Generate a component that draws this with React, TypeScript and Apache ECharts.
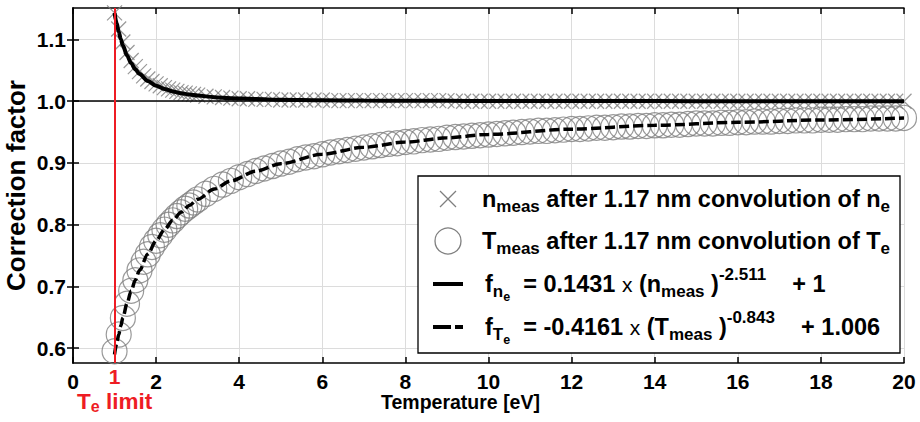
import React, { useEffect, useRef } from "react";
import * as echarts from "echarts";

// ---- data ----
const xTicks = [0, 2, 4, 6, 8, 10, 12, 14, 16, 18, 20];
const yTicks = [0.6, 0.7, 0.8, 0.9, 1.0, 1.1];
const teLimit = 1;
const unityLevel = 1.0;

const measX = [
  1.0, 1.1, 1.2, 1.3, 1.4, 1.5, 1.6, 1.7, 1.8, 1.9, 2.0, 2.1, 2.2, 2.3, 2.4, 2.5, 2.6, 2.7, 2.8, 2.9, 3.0,
  3.2, 3.4, 3.6, 3.8, 4.0, 4.2, 4.4, 4.6, 4.8, 5.0, 5.2, 5.4, 5.6, 5.8, 6.0, 6.2, 6.4, 6.6, 6.8, 7.0,
  7.2, 7.4, 7.6, 7.8, 8.0, 8.2, 8.4, 8.6, 8.8, 9.0, 9.2, 9.4, 9.6, 9.8, 10.0,
  10.2, 10.4, 10.6, 10.8, 11.0, 11.2, 11.4, 11.6, 11.8, 12.0, 12.2, 12.4, 12.6, 12.8, 13.0,
  13.2, 13.4, 13.6, 13.8, 14.0, 14.2, 14.4, 14.6, 14.8, 15.0, 15.2, 15.4, 15.6, 15.8, 16.0,
  16.2, 16.4, 16.6, 16.8, 17.0, 17.2, 17.4, 17.6, 17.8, 18.0, 18.2, 18.4, 18.6, 18.8, 19.0,
  19.2, 19.4, 19.6, 19.8, 20.0,
];
const nMeas = [
  1.143, 1.117, 1.096, 1.079, 1.066, 1.056, 1.048, 1.041, 1.036, 1.032, 1.028, 1.025, 1.022, 1.020, 1.018, 1.016, 1.014, 1.013, 1.012, 1.011, 1.010,
  1.008, 1.007, 1.006, 1.005, 1.004, 1.004, 1.003, 1.003, 1.003, 1.002, 1.002, 1.002, 1.002, 1.002, 1.002, 1.001, 1.001, 1.001, 1.001, 1.001,
  1.001, 1.001, 1.001, 1.001, 1.001, 1.001, 1.001, 1.001, 1.001, 1.001, 1.000, 1.000, 1.000, 1.000, 1.000,
  1.000, 1.000, 1.000, 1.000, 1.000, 1.000, 1.000, 1.000, 1.000, 1.000, 1.000, 1.000, 1.000, 1.000, 1.000,
  1.000, 1.000, 1.000, 1.000, 1.000, 1.000, 1.000, 1.000, 1.000, 1.000, 1.000, 1.000, 1.000, 1.000, 1.000,
  1.000, 1.000, 1.000, 1.000, 1.000, 1.000, 1.000, 1.000, 1.000, 1.000, 1.000, 1.000, 1.000, 1.000, 1.000,
  1.000, 1.000, 1.000, 1.000, 1.000,
];
const tMeas = [
  0.595, 0.622, 0.649, 0.672, 0.693, 0.710, 0.726, 0.740, 0.752, 0.764, 0.774, 0.783, 0.792, 0.800, 0.807, 0.814, 0.820, 0.826, 0.831, 0.836, 0.841,
  0.850, 0.858, 0.865, 0.871, 0.877, 0.882, 0.887, 0.891, 0.895, 0.899, 0.902, 0.906, 0.909, 0.911, 0.914, 0.917, 0.919, 0.921, 0.923, 0.925,
  0.927, 0.929, 0.931, 0.932, 0.934, 0.935, 0.937, 0.938, 0.939, 0.941, 0.942, 0.943, 0.944, 0.945, 0.946,
  0.947, 0.948, 0.949, 0.950, 0.951, 0.952, 0.952, 0.953, 0.954, 0.955, 0.955, 0.956, 0.957, 0.957, 0.958,
  0.959, 0.959, 0.960, 0.960, 0.961, 0.961, 0.962, 0.962, 0.963, 0.964, 0.964, 0.964, 0.965, 0.965, 0.966,
  0.966, 0.967, 0.967, 0.967, 0.968, 0.968, 0.969, 0.969, 0.969, 0.970, 0.970, 0.970, 0.971, 0.971, 0.971,
  0.972, 0.972, 0.972, 0.972, 0.973,
];

const fitX = [1.0, 1.05, 1.1, 1.15, 1.2, 1.3, 1.4, 1.5, 1.6, 1.8, 2.0, 2.2, 2.4, 2.6, 2.8, 3.0, 3.4, 3.8, 4.4, 5, 6, 7, 8, 9, 10, 12, 14, 16, 18, 20];
const fitN = [1.1431, 1.1266, 1.1127, 1.1007, 1.0905, 1.0741, 1.0615, 1.0517, 1.044, 1.0327, 1.0251, 1.0198, 1.0159, 1.013, 1.0108, 1.0091, 1.0066, 1.005, 1.0035, 1.0025, 1.0016, 1.0011, 1.0008, 1.0006, 1.0004, 1.0003, 1.0002, 1.0001, 1.0001, 1.0001];
const fitT = [0.5899, 0.6067, 0.622, 0.6361, 0.6492, 0.6725, 0.6926, 0.7104, 0.726, 0.7525, 0.774, 0.7919, 0.8071, 0.82, 0.8313, 0.8412, 0.8577, 0.871, 0.8867, 0.8989, 0.9141, 0.9254, 0.9339, 0.9407, 0.9463, 0.9548, 0.961, 0.9658, 0.9696, 0.9727];

const FONT = '"Liberation Sans", Arial, Helvetica, sans-serif';
const GRAY = "#7f7f7f";
const RED = "#ee1c24";
const X_SYMBOL = "path://M0,0L10,10M10,0L0,10";

const legendRich = {
  m: { fontSize: 23.5, fontWeight: "bold", fontFamily: FONT, fill: "#000", lineHeight: 38 },
  s: { fontSize: 17, fontWeight: "bold", fontFamily: FONT, fill: "#000", lineHeight: 17, padding: [14, 0, 0, 0] },
  ss: { fontSize: 12.5, fontWeight: "bold", fontFamily: FONT, fill: "#000", lineHeight: 12, padding: [25, 0, 0, 0] },
  sup: { fontSize: 17, fontWeight: "bold", fontFamily: FONT, fill: "#000", lineHeight: 17, padding: [0, 0, 19, 0] },
  x: { fontSize: 21, fontWeight: "normal", fontFamily: FONT, fill: "#000", lineHeight: 38 },
};

export default function App() {
  const ref = useRef<HTMLDivElement>(null);

  useEffect(() => {
    if (!ref.current) return;
    const chart = echarts.init(ref.current, undefined, { renderer: "svg" });

    const axisLine = { show: true, lineStyle: { color: "#000", width: 1.5 } };
    const tick = { show: true, inside: true, length: 6, lineStyle: { color: "#000", width: 1.5 } };
    const label = { color: "#000", fontSize: 21, fontWeight: "bold", fontFamily: FONT };

    const legendX = 418, legendY = 176, legendW = 482, legendH = 177;
    const symX = 448;
    const rows = [199, 241, 284, 327];
    const textX = 482;

    chart.setOption({
      animation: false,
      grid: { left: 73, right: 16, top: 8, bottom: 59, containLabel: false, outerBoundsMode: "none" },
      xAxis: [
        {
          type: "value", min: xTicks[0], max: xTicks[xTicks.length - 1], interval: 2,
          axisLine, axisTick: tick,
          axisLabel: { ...label, margin: 8 },
          splitLine: { show: true, lineStyle: { color: "#dcdcdc", width: 1 } },
          name: "Temperature [eV]", nameLocation: "middle", nameGap: 29, nameMoveOverlap: false,
          nameTextStyle: { color: "#000", fontSize: 19.5, fontWeight: "bold", fontFamily: FONT, padding: [0, 56, 0, 0] },
        },
        {
          type: "value", position: "top", min: xTicks[0], max: xTicks[xTicks.length - 1], interval: 2,
          axisLine, axisTick: tick, axisLabel: { show: false }, splitLine: { show: false },
        },
      ],
      yAxis: [
        {
          type: "value", min: 0.576, max: 1.151,
          axisLine, axisTick: { ...tick, customValues: yTicks },
          axisLabel: { ...label, margin: 7, customValues: yTicks, formatter: (v: number) => v.toFixed(1) },
          splitLine: { show: true, lineStyle: { color: "#dcdcdc", width: 1 } },
          name: "Correction factor", nameLocation: "middle", nameGap: 44, nameRotate: 90, nameMoveOverlap: false,
          nameTextStyle: { color: "#000", fontSize: 26, fontWeight: "bold", fontFamily: FONT },
        },
        {
          type: "value", position: "right", min: 0.576, max: 1.151,
          axisLine, axisTick: { ...tick, customValues: yTicks },
          axisLabel: { show: false, customValues: yTicks }, splitLine: { show: false },
        },
      ],
      series: [
        {
          type: "scatter", name: "n_meas", z: 2, silent: true,
          data: measX.map((x, i) => [x, nMeas[i]]),
          symbol: X_SYMBOL, symbolSize: 15,
          itemStyle: { color: "none", borderColor: GRAY, borderWidth: 1.2 },
        },
        {
          type: "scatter", name: "T_meas", z: 2, silent: true,
          data: measX.map((x, i) => [x, tMeas[i]]),
          symbol: "circle", symbolSize: 25,
          itemStyle: { color: "none", borderColor: GRAY, borderWidth: 1.2 },
        },
        {
          type: "line", name: "f_ne", z: 3, silent: true,
          data: fitX.map((x, i) => [x, fitN[i]]),
          symbol: "none", showSymbol: false, smooth: 0.3, smoothMonotone: "x",
          lineStyle: { color: "#000", width: 4 },
          markLine: {
            silent: true, symbol: "none", animation: false,
            label: { show: false },
            lineStyle: { color: "#000", width: 1.5, type: "solid" },
            data: [{ yAxis: unityLevel }],
          },
        },
        {
          type: "line", name: "f_Te", z: 4, silent: true,
          data: fitX.map((x, i) => [x, fitT[i]]),
          symbol: "none", showSymbol: false, smooth: 0.3, smoothMonotone: "x",
          lineStyle: { color: "#000", width: 3.5, type: [10, 4] },
          markLine: {
            silent: true, symbol: "none", animation: false,
            lineStyle: { color: RED, width: 2, type: "solid" },
            label: {
              show: true, position: "start", distance: 2,
              formatter: "{one|" + teLimit + "}\n{t|T}{s|e}{t| limit}",
              rich: {
                one: { color: RED, fontSize: 21, fontWeight: "bold", fontFamily: FONT, lineHeight: 22 },
                t: { color: RED, fontSize: 22.5, fontWeight: "bold", fontFamily: FONT, lineHeight: 28 },
                s: { color: RED, fontSize: 16, fontWeight: "bold", fontFamily: FONT, lineHeight: 16, padding: [11, 0, 0, 0] },
              },
            },
            data: [{ xAxis: teLimit }],
          },
        },
      ],
      graphic: [
        {
          type: "rect", z: 100,
          shape: { x: legendX, y: legendY, width: legendW, height: legendH },
          style: { fill: "#fff", stroke: "#000", lineWidth: 1.3 },
        },
        { type: "line", z: 101, shape: { x1: symX - 8, y1: rows[0] - 8, x2: symX + 8, y2: rows[0] + 8 }, style: { stroke: GRAY, lineWidth: 1.3 } },
        { type: "line", z: 101, shape: { x1: symX - 8, y1: rows[0] + 8, x2: symX + 8, y2: rows[0] - 8 }, style: { stroke: GRAY, lineWidth: 1.3 } },
        { type: "circle", z: 101, shape: { cx: symX, cy: rows[1], r: 13 }, style: { fill: "none", stroke: GRAY, lineWidth: 1.3 } },
        { type: "line", z: 101, shape: { x1: symX - 15, y1: rows[2], x2: symX + 15, y2: rows[2] }, style: { stroke: "#000", lineWidth: 4 } },
        { type: "line", z: 101, shape: { x1: symX - 15, y1: rows[3], x2: symX + 15, y2: rows[3] }, style: { stroke: "#000", lineWidth: 4, lineDash: [18, 4] } },
        {
          type: "text", z: 101, x: textX, y: rows[0],
          style: { text: "{m|n}{s|meas}{m| after 1.17 nm convolution of n}{s|e}", rich: legendRich, align: "left", verticalAlign: "middle" },
        },
        {
          type: "text", z: 101, x: textX, y: rows[1],
          style: { text: "{m|T}{s|meas}{m| after 1.17 nm convolution of T}{s|e}", rich: legendRich, align: "left", verticalAlign: "middle" },
        },
        {
          type: "text", z: 101, x: textX + 3, y: rows[2],
          style: { text: "{m|f}{s|n}{ss|e}{m|  = 0.1431 }{x|x}{m| (n}{s|meas}{m| )}{sup|-2.511}{m|    + 1}", rich: legendRich, align: "left", verticalAlign: "middle" },
        },
        {
          type: "text", z: 101, x: textX + 3, y: rows[3],
          style: { text: "{m|f}{s|T}{ss|e}{m|  = -0.4161 }{x|x}{m| (T}{s|meas}{m| )}{sup|-0.843}{m|    + 1.006}", rich: legendRich, align: "left", verticalAlign: "middle" },
        },
      ],
    });

    return () => chart.dispose();
  }, []);

  return <div ref={ref} style={{ position: "absolute", left: 0, top: 0, width: 920, height: 422 }} />;
}
